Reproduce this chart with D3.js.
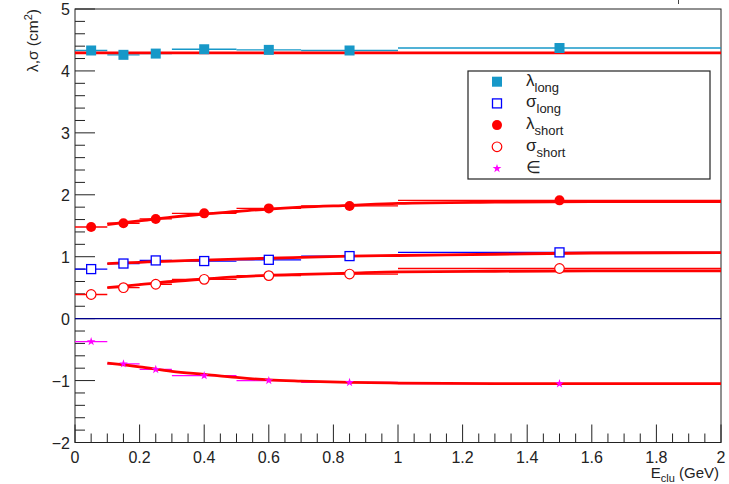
<!DOCTYPE html>
<html>
<head>
<meta charset="utf-8">
<script src="https://cdn.jsdelivr.net/npm/d3@7"></script>
<style>
  body { margin: 0; background: #fff; }
  text { font-family: "Liberation Sans", Arial, sans-serif; }
</style>
</head>
<body>
<div id="chart"></div>
<script>
// bins in E_clu (GeV)
const eCenter = [0.05, 0.15, 0.25, 0.4, 0.6, 0.85, 1.5];
const eLow    = [0.0, 0.1, 0.2, 0.3, 0.5, 0.7, 1.0];
const eHigh   = [0.1, 0.2, 0.3, 0.5, 0.7, 1.0, 2.0];

// measured points
const lambdaLong  = [4.33, 4.26, 4.28, 4.35, 4.34, 4.33, 4.37];
const sigmaLong   = [0.80, 0.89, 0.94, 0.93, 0.95, 1.01, 1.07];
const lambdaShort = [1.48, 1.54, 1.61, 1.70, 1.78, 1.82, 1.91];
const sigmaShort  = [0.39, 0.50, 0.555, 0.635, 0.695, 0.72, 0.81];
const epsilon     = [-0.37, -0.73, -0.82, -0.92, -1.00, -1.03, -1.05];

// fitted curves (red)
const fitX            = [0.1, 0.2, 0.3, 0.4, 0.5, 0.6, 0.7, 0.85, 1.0, 1.3, 1.6, 2.0];
const fitLambdaShort  = [1.52, 1.58, 1.64, 1.69, 1.73, 1.77, 1.80, 1.83, 1.86, 1.88, 1.89, 1.89];
const fitSigmaLong    = [0.89, 0.91, 0.93, 0.945, 0.96, 0.975, 0.99, 1.01, 1.02, 1.04, 1.06, 1.065];
const fitSigmaShort   = [0.50, 0.55, 0.60, 0.64, 0.675, 0.70, 0.715, 0.735, 0.755, 0.765, 0.77, 0.77];
const fitEpsilon      = [-0.72, -0.78, -0.85, -0.90, -0.95, -0.99, -1.01, -1.03, -1.04, -1.05, -1.05, -1.05];
const fitLongX        = [0.0, 2.0];
const fitLambdaLong   = [4.29, 4.29];

const xTicks = [0, 0.2, 0.4, 0.6, 0.8, 1, 1.2, 1.4, 1.6, 1.8, 2];
const yTicks = [-2, -1, 0, 1, 2, 3, 4, 5];

const legendNames = [["λ", "long"], ["σ", "long"], ["λ", "short"], ["σ", "short"], ["∈", ""]];

var W = 729, H = 484;
var margin = {top: 9, right: 8, bottom: 41.5, left: 75};
var width = W - margin.left - margin.right,
    height = H - margin.top - margin.bottom;

var svg = d3.select("#chart").append("svg")
  .attr("width", W).attr("height", H);
var g = svg.append("g")
  .attr("transform", "translate(" + margin.left + "," + margin.top + ")");

var x = d3.scaleLinear().domain([0, 2]).range([0, width]);
var y = d3.scaleLinear().domain([-2, 5]).range([height, 0]);

// frame
g.append("rect").attr("width", width).attr("height", height)
  .attr("fill", "none").attr("stroke", "#222").attr("stroke-width", 1);

// small stray mark above the frame
svg.append("line").attr("x1", 678.5).attr("x2", 678.5).attr("y1", 0).attr("y2", 4)
  .attr("stroke", "#444");

// x axis ticks (inside, upward)
var xMinor = d3.range(0, 2.0001, 0.05);
g.append("g").selectAll("line").data(xMinor).join("line")
  .attr("x1", d => x(d)).attr("x2", d => x(d))
  .attr("y1", height).attr("y2", (d, i) => i % 4 === 0 ? height - 18 : height - 9)
  .attr("stroke", "#222");
g.append("g").selectAll("text").data(xTicks).join("text")
  .attr("x", d => x(d)).attr("y", height + 20)
  .attr("text-anchor", "middle").style("font-size", "16px").attr("fill", "#222")
  .text(d => d3.format("~g")(d));

// y axis ticks (inside, rightward)
var yMinor = d3.range(-2, 5.0001, 0.2);
g.append("g").selectAll("line").data(yMinor).join("line")
  .attr("x1", 0).attr("x2", (d, i) => i % 5 === 0 ? 20 : 10)
  .attr("y1", d => y(d)).attr("y2", d => y(d))
  .attr("stroke", "#222");
g.append("g").selectAll("text").data(yTicks).join("text")
  .attr("x", -5).attr("y", d => y(d) + 6)
  .attr("text-anchor", "end").style("font-size", "16px").attr("fill", "#222")
  .text(d => d < 0 ? "\u2212" + Math.abs(d) : d);

// axis titles
var xt = svg.append("text").attr("x", 719).attr("y", 478)
  .attr("text-anchor", "end").style("font-size", "15px").attr("fill", "#222");
xt.append("tspan").text("E");
xt.append("tspan").attr("dy", 4).style("font-size", "11px").text("clu");
xt.append("tspan").attr("dy", -4).text(" (GeV)");

var yt = svg.append("text").attr("transform", "translate(38,9) rotate(-90)")
  .attr("text-anchor", "end").style("font-size", "15.5px").attr("fill", "#222");
yt.append("tspan").text("λ,σ (cm");
yt.append("tspan").attr("dy", -6).style("font-size", "11px").text("2");
yt.append("tspan").attr("dy", 6).text(")");

// zero line
g.append("line").attr("x1", 0).attr("x2", width)
  .attr("y1", y(0)).attr("y2", y(0))
  .attr("stroke", "#00008b").attr("stroke-width", 1.2);

var series = [
  {vals: lambdaLong,  color: "#1798c8", marker: "sqFill"},
  {vals: sigmaLong,   color: "#0000ff", marker: "sqOpen"},
  {vals: lambdaShort, color: "#ff0000", marker: "cFill"},
  {vals: sigmaShort,  color: "#ff0000", marker: "cOpen"},
  {vals: epsilon,     color: "#ff00ff", marker: "star"}
];

// horizontal error bars
series.forEach(function(s) {
  g.append("g").selectAll("line").data(s.vals).join("line")
    .attr("x1", (d, i) => x(eLow[i])).attr("x2", (d, i) => x(eHigh[i]))
    .attr("y1", d => y(d)).attr("y2", d => y(d))
    .attr("stroke", s.color).attr("stroke-width", 1.3);
});

// fits
var line = d3.line().x(d => x(d[0])).y(d => y(d[1])).curve(d3.curveMonotoneX);
[[fitLongX, fitLambdaLong], [fitX, fitLambdaShort], [fitX, fitSigmaLong],
 [fitX, fitSigmaShort], [fitX, fitEpsilon]].forEach(function(f) {
  g.append("path").datum(f[0].map((xx, i) => [xx, f[1][i]]))
    .attr("fill", "none").attr("stroke", "#ff0000").attr("stroke-width", 2.8)
    .attr("d", line);
});

function drawMarker(sel, type, color) {
  if (type === "sqFill" || type === "sqOpen") {
    var s = type === "sqFill" ? 10 : 9;
    sel.append("rect").attr("x", -s / 2).attr("y", -s / 2).attr("width", s).attr("height", s)
      .attr("fill", type === "sqFill" ? color : "#fff")
      .attr("stroke", color).attr("stroke-width", type === "sqFill" ? 0 : 1.3);
  } else if (type === "cFill" || type === "cOpen") {
    sel.append("circle").attr("r", type === "cFill" ? 5 : 4.8)
      .attr("fill", type === "cFill" ? color : "#fff")
      .attr("stroke", color).attr("stroke-width", type === "cFill" ? 0 : 1.2);
  } else {
    sel.append("path").attr("d", d3.symbol(d3.symbolStar, 24)())
      .attr("fill", color);
  }
}

// markers
series.forEach(function(s) {
  g.append("g").selectAll("g").data(s.vals).join("g")
    .attr("transform", (d, i) => "translate(" + x(eCenter[i]) + "," + y(d) + ")")
    .each(function() { drawMarker(d3.select(this), s.marker, s.color); });
});

// legend
var lg = svg.append("g");
lg.append("rect").attr("x", 468).attr("y", 71).attr("width", 242).attr("height", 108)
  .attr("fill", "#fff").attr("stroke", "#222").attr("stroke-width", 1.2);
series.forEach(function(s, i) {
  var cy = 81.7 + i * 21.7;
  var m = lg.append("g").attr("transform", "translate(497," + cy + ")");
  drawMarker(m, s.marker, s.color);
  var t = lg.append("text").attr("x", 526).attr("y", cy + 4).style("font-size", "17px").attr("fill", "#222");
  t.append("tspan").text(legendNames[i][0]);
  if (legendNames[i][1]) t.append("tspan").attr("dy", 6).style("font-size", "13px").text(legendNames[i][1]);
});
</script>
</body>
</html>
